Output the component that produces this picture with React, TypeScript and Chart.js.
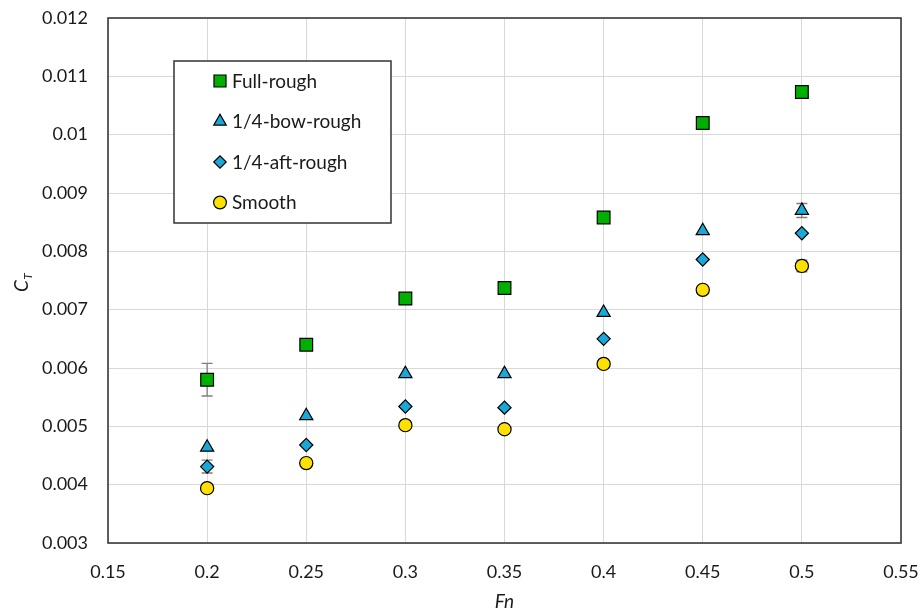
import React, { useEffect, useRef } from 'react';
import { Chart, registerables } from 'chart.js';
import { drawPoint } from 'chart.js/helpers';

Chart.register(...registerables);

const froudeNumbers = [0.2, 0.25, 0.3, 0.35, 0.4, 0.45, 0.5];
const seriesNames = ['Full-rough', '1/4-bow-rough', '1/4-aft-rough', 'Smooth'];
const fullRough = [0.0058, 0.0064, 0.00719, 0.00737, 0.00858, 0.0102, 0.01073];
const bowRough = [0.00464, 0.00518, 0.0059, 0.0059, 0.00695, 0.00835, 0.0087];
const aftRough = [0.00431, 0.00468, 0.00534, 0.00532, 0.0065, 0.00786, 0.00831];
const smooth = [0.00394, 0.00437, 0.00502, 0.00495, 0.00607, 0.00734, 0.00775];
const fullRoughErr = [0.00028, 0, 0, 0, 0, 0, 0];
const bowRoughErr = [0, 0, 0, 0, 0, 0, 0.00012];
const aftRoughErr = [0.00011, 0, 0, 0, 0, 0, 0];
const smoothErr = [0, 0, 0, 0, 0, 0, 0.0001];
const xTickLabels = ['0.15', '0.2', '0.25', '0.3', '0.35', '0.4', '0.45', '0.5', '0.55'];
const yTickLabels = ['0.003', '0.004', '0.005', '0.006', '0.007', '0.008', '0.009', '0.01', '0.011', '0.012'];
const xTitle = 'Fn';
const yTitleMain = 'C';
const yTitleSub = 'T';

const FONT = 'Lato, "Open Sans", sans-serif';
const TEXT = '#1a1a1a';

const styles = [
  { pointStyle: 'rect', radius: 9, color: '#00b000', legendRadius: 8.5 },
  { pointStyle: 'triangle', radius: 7.6, color: '#1aa8d8', legendRadius: 7.2 },
  { pointStyle: 'rectRot', radius: 6.6, color: '#1aa8d8', legendRadius: 6.2 },
  { pointStyle: 'circle', radius: 6.6, color: '#ffe100', legendRadius: 6.4 },
];

const seriesValues = [fullRough, bowRough, aftRough, smooth];
const seriesErrors = [fullRoughErr, bowRoughErr, aftRoughErr, smoothErr];

const frameAndText = {
  id: 'frameAndText',
  beforeDatasetsDraw(chart: any) {
    const { ctx, scales } = chart;
    const x = scales.x;
    const y = scales.y;
    ctx.save();
    ctx.strokeStyle = '#7f7f7f';
    ctx.lineWidth = 1.3;
    chart.data.datasets.forEach((ds: any, di: number) => {
      const errs = seriesErrors[di];
      ds.data.forEach((p: any, i: number) => {
        const e = errs[i];
        if (!e) return;
        const px = x.getPixelForValue(p.x);
        const top = y.getPixelForValue(p.y + e);
        const bot = y.getPixelForValue(p.y - e);
        ctx.beginPath();
        ctx.moveTo(px, top);
        ctx.lineTo(px, bot);
        ctx.moveTo(px - 5.5, top);
        ctx.lineTo(px + 5.5, top);
        ctx.moveTo(px - 5.5, bot);
        ctx.lineTo(px + 5.5, bot);
        ctx.stroke();
      });
    });
    ctx.restore();
  },
  afterDraw(chart: any) {
    const { ctx, chartArea } = chart;
    ctx.save();
    // plot border
    ctx.strokeStyle = '#3a3a3a';
    ctx.lineWidth = 1.6;
    ctx.strokeRect(chartArea.left, chartArea.top, chartArea.right - chartArea.left, chartArea.bottom - chartArea.top);

    // legend box
    const lx = 174, ly = 61, lw = 217, lh = 162;
    ctx.fillStyle = '#ffffff';
    ctx.fillRect(lx, ly, lw, lh);
    ctx.strokeStyle = '#333333';
    ctx.lineWidth = 1.5;
    ctx.strokeRect(lx, ly, lw, lh);
    const rowY = [81, 121.5, 162, 202.5];
    seriesNames.forEach((name, i) => {
      const st = styles[i];
      ctx.fillStyle = st.color;
      ctx.strokeStyle = '#000000';
      ctx.lineWidth = 1.2;
      drawPoint(ctx, { pointStyle: st.pointStyle, radius: st.legendRadius, borderWidth: 1.2, rotation: 0 }, 220, rowY[i]);
      ctx.fillStyle = TEXT;
      ctx.font = `19px ${FONT}`;
      ctx.textAlign = 'left';
      ctx.textBaseline = 'middle';
      ctx.fillText(name, 232, rowY[i] + 0.5);
    });

    // x title
    ctx.fillStyle = TEXT;
    ctx.font = `italic 19px ${FONT}`;
    ctx.textAlign = 'center';
    ctx.textBaseline = 'middle';
    ctx.fillText(xTitle, (chartArea.left + chartArea.right) / 2, 602);

    // y title with subscript
    ctx.translate(28, 292);
    ctx.rotate(-Math.PI / 2);
    ctx.textAlign = 'left';
    ctx.textBaseline = 'alphabetic';
    ctx.font = `italic 19px ${FONT}`;
    ctx.fillText(yTitleMain, 0, 0);
    const cw = ctx.measureText(yTitleMain).width;
    ctx.font = `italic 12px ${FONT}`;
    ctx.fillText(yTitleSub, cw + 0.5, 4);
    ctx.restore();
  },
};

export default function App() {
  const ref = useRef<HTMLCanvasElement | null>(null);
  useEffect(() => {
    if (!ref.current) return;
    const datasets = seriesNames.map((name, i) => ({
      label: name,
      data: froudeNumbers.map((fn, j) => ({ x: fn, y: seriesValues[i][j] })),
      pointStyle: styles[i].pointStyle as any,
      pointRadius: styles[i].radius,
      pointHoverRadius: styles[i].radius,
      backgroundColor: styles[i].color,
      borderColor: '#000000',
      pointBorderWidth: 1.2,
      borderWidth: 1.2,
      showLine: false,
      order: -i,
    }));
    const chart = new Chart(ref.current, {
      type: 'scatter',
      data: { datasets },
      options: {
        animation: false,
        responsive: false,
        devicePixelRatio: 1,
        layout: { padding: { top: 18, right: 21, left: 0, bottom: 0 } },
        plugins: { legend: { display: false }, tooltip: { enabled: false } },
        scales: {
          x: {
            type: 'linear',
            min: 0.15,
            max: 0.55,
            ticks: {
              stepSize: 0.05,
              padding: 18,
              color: TEXT,
              font: { family: FONT, size: 18 },
              callback: (_v: any, i: number) => xTickLabels[i],
            },
            grid: { color: '#d9d9d9', lineWidth: 1, drawTicks: false },
            border: { display: false },
            afterFit: (s: any) => {
              s.height = 69;
              s.paddingLeft = 0;
              s.paddingRight = 0;
              s.paddingTop = 0;
              s.paddingBottom = 0;
            },
          },
          y: {
            type: 'linear',
            min: 0.003,
            max: 0.012,
            ticks: {
              stepSize: 0.001,
              padding: 20,
              color: TEXT,
              font: { family: FONT, size: 18 },
              callback: (_v: any, i: number) => yTickLabels[i],
            },
            grid: { color: '#d9d9d9', lineWidth: 1, drawTicks: false },
            border: { display: false },
            afterFit: (s: any) => {
              s.width = 108;
              s.paddingLeft = 0;
              s.paddingRight = 0;
              s.paddingTop = 0;
              s.paddingBottom = 0;
            },
          },
        },
      },
      plugins: [frameAndText],
    });
    return () => chart.destroy();
  }, []);
  return (
    <div style={{ position: 'absolute', left: 0, top: 0, width: 922, height: 612, background: '#fff' }}>
      <canvas ref={ref} width={922} height={612} />
    </div>
  );
}
